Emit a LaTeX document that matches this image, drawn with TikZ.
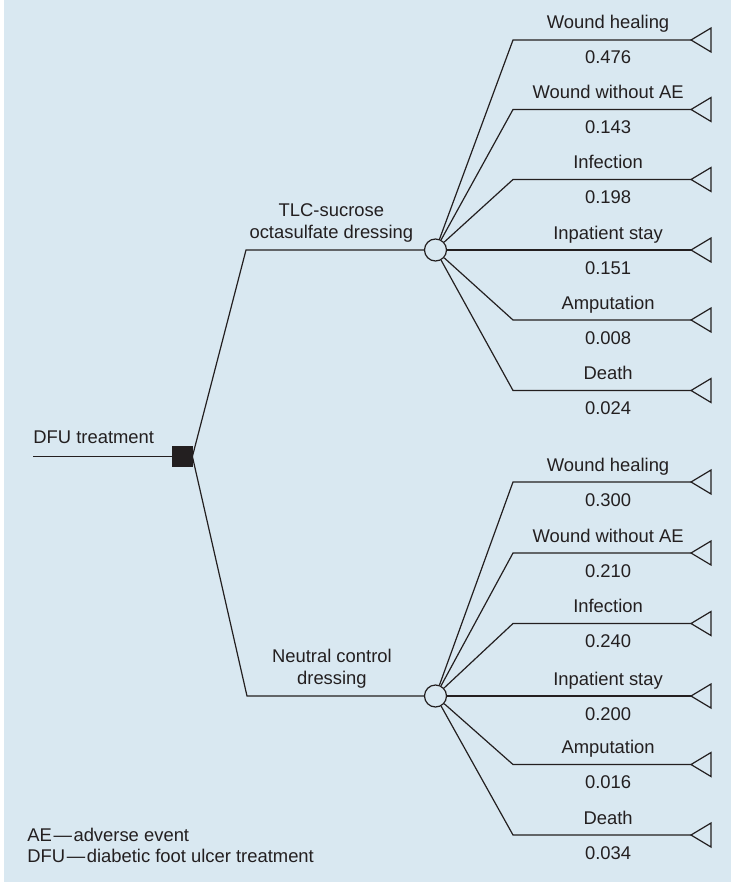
\documentclass[tikz,border=0pt]{standalone}
\usepackage{fontspec}
\setmainfont{Liberation Sans}
\usepackage{tikz}
\usetikzlibrary{positioning}
\definecolor{panelblue}{RGB}{217,232,241}
\definecolor{treeink}{RGB}{35,31,32}

\begin{document}
\begin{tikzpicture}[
  x=0.5pt, y=-0.5pt,
  every node/.style={font=\fontsize{9.2}{10.8}\selectfont, text=treeink},
  decision/.style={draw=treeink, fill=treeink, minimum size=10pt, inner sep=0pt},
  chance/.style={circle, draw=treeink, fill=panelblue, line width=0.6pt,
    minimum size=11pt, inner sep=0pt},
  branch/.style={draw=treeink, line width=0.6pt},
  terminal/.style={draw=treeink, line width=0.6pt, fill=panelblue, line join=miter},
  outcome/.style={pos=0.534, anchor=base, inner sep=0pt, yshift=5.5pt},
  prob/.style={pos=0.534, anchor=base, inner sep=0pt, yshift=-12pt},
  armlabel/.style={pos=0.48, anchor=south, inner sep=0pt, yshift=3.6pt, align=center},
  legend/.style={anchor=base west, inner sep=0pt},
]

% ── PANEL ── page margins + blue background
\useasboundingbox (0,0) rectangle (731,883);
\fill[panelblue] (4,0) rectangle (731,882);

% ── ROOT ── decision node
\coordinate (root) at (33,456.5);
\node[decision] at (182,456.5) (dec) {};
\node[legend, yshift=6.5pt] at (root) (rootlabel) {DFU treatment};

% ── ARMS ── bends + chance nodes
\coordinate (bendT) at (246,250);
\node[chance] at (435.5,250) (tlc) {};
\coordinate (bendN) at (247,696);
\node[chance] at (435.5,696) (ncd) {};

% ── OUTCOMES ── TLC-sucrose arm (bends + tips)
\coordinate (tk1) at (513,40);    \coordinate (tt1) at (691,40);
\coordinate (tk2) at (513,109.5); \coordinate (tt2) at (691,109.5);
\coordinate (tk3) at (513,179.5); \coordinate (tt3) at (691,179.5);
\coordinate (tk4) at (513,250);   \coordinate (tt4) at (691,250);
\coordinate (tk5) at (513,320);   \coordinate (tt5) at (691,320);
\coordinate (tk6) at (513,390.5); \coordinate (tt6) at (691,390.5);

% ── OUTCOMES ── neutral control arm (bends + tips)
\coordinate (nk1) at (513,482);   \coordinate (nt1) at (691,482);
\coordinate (nk2) at (513,553);   \coordinate (nt2) at (691,553);
\coordinate (nk3) at (513,623.5); \coordinate (nt3) at (691,623.5);
\coordinate (nk4) at (513,696);   \coordinate (nt4) at (691,696);
\coordinate (nk5) at (513,764.5); \coordinate (nt5) at (691,764.5);
\coordinate (nk6) at (513,835);   \coordinate (nt6) at (691,835);

%% ══════════════════ BRANCHES ══════════════════

% root → decision
\draw[branch] (root) -- (dec.west);

% decision → arms
\draw[branch] (dec.east) -- (bendT) -- node[armlabel]{TLC-sucrose\\octasulfate dressing} (tlc);
\draw[branch] (dec.east) -- (bendN) -- node[armlabel]{Neutral control\\dressing} (ncd);

% TLC-sucrose → outcomes
\draw[branch] (tlc) -- (tk1) -- node[outcome]{Wound healing}     node[prob]{0.476} (tt1);
\draw[branch] (tlc) -- (tk2) -- node[outcome]{Wound without AE}  node[prob]{0.143} (tt2);
\draw[branch] (tlc) -- (tk3) -- node[outcome]{Infection}         node[prob]{0.198} (tt3);
\draw[branch] (tlc) -- (tk4) -- node[outcome]{Inpatient stay}    node[prob]{0.151} (tt4);
\draw[branch] (tlc) -- (tk5) -- node[outcome]{Amputation}        node[prob]{0.008} (tt5);
\draw[branch] (tlc) -- (tk6) -- node[outcome]{Death}             node[prob]{0.024} (tt6);

% neutral control → outcomes
\draw[branch] (ncd) -- (nk1) -- node[outcome]{Wound healing}     node[prob]{0.300} (nt1);
\draw[branch] (ncd) -- (nk2) -- node[outcome]{Wound without AE}  node[prob]{0.210} (nt2);
\draw[branch] (ncd) -- (nk3) -- node[outcome]{Infection}         node[prob]{0.240} (nt3);
\draw[branch] (ncd) -- (nk4) -- node[outcome]{Inpatient stay}    node[prob]{0.200} (nt4);
\draw[branch] (ncd) -- (nk5) -- node[outcome]{Amputation}        node[prob]{0.016} (nt5);
\draw[branch] (ncd) -- (nk6) -- node[outcome]{Death}             node[prob]{0.034} (nt6);

% terminal triangles
\draw[terminal] (tt1) -- ++(20,-12) -- ++(0,24) -- cycle;
\draw[terminal] (tt2) -- ++(20,-12) -- ++(0,24) -- cycle;
\draw[terminal] (tt3) -- ++(20,-12) -- ++(0,24) -- cycle;
\draw[terminal] (tt4) -- ++(20,-12) -- ++(0,24) -- cycle;
\draw[terminal] (tt5) -- ++(20,-12) -- ++(0,24) -- cycle;
\draw[terminal] (tt6) -- ++(20,-12) -- ++(0,24) -- cycle;
\draw[terminal] (nt1) -- ++(20,-12) -- ++(0,24) -- cycle;
\draw[terminal] (nt2) -- ++(20,-12) -- ++(0,24) -- cycle;
\draw[terminal] (nt3) -- ++(20,-12) -- ++(0,24) -- cycle;
\draw[terminal] (nt4) -- ++(20,-12) -- ++(0,24) -- cycle;
\draw[terminal] (nt5) -- ++(20,-12) -- ++(0,24) -- cycle;
\draw[terminal] (nt6) -- ++(20,-12) -- ++(0,24) -- cycle;

% ── LEGEND ──
\node[legend] at (27,841.5) (legAE)  {AE\kern0.8pt\textemdash\kern0.8pt adverse event};
\node[legend] at (27,862.5) (legDFU) {DFU\kern0.8pt\textemdash\kern0.8pt diabetic foot ulcer treatment};

\end{tikzpicture}
\end{document}
